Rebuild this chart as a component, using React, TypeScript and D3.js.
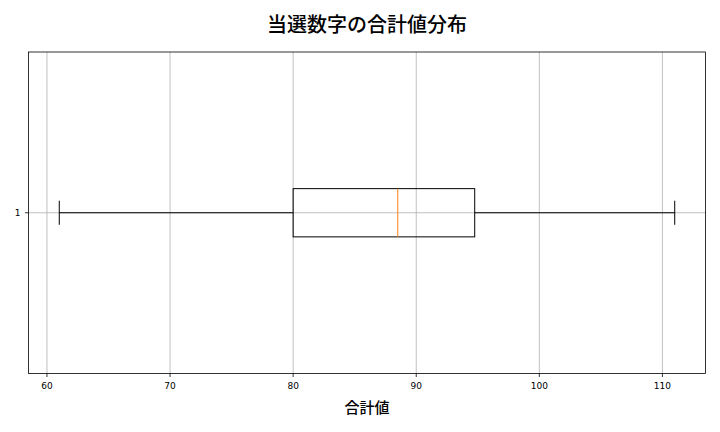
import React, { useEffect, useRef } from 'react';
import * as d3 from 'd3';

// Box statistics
const categories = ['1'];
const whiskerLow = [61];
const q1Values = [80];
const medianValues = [88.5];
const q3Values = [94.75];
const whiskerHigh = [111];
const xTicks = [60, 70, 80, 90, 100, 110];

const title = '当選数字の合計値分布';
const xLabel = '合計値';

const width = 720;
const height = 432;

const App: React.FC = () => {
  const svgRef = useRef<SVGSVGElement>(null);

  useEffect(() => {
    if (!svgRef.current) return;
    const svg = d3.select(svgRef.current);
    svg.selectAll('*').remove();

    const left = 28.5;
    const right = 705.5;
    const top = 52;
    const bottom = 373.5;

    // matplotlib-like autoscale: 5% padding on whisker range
    const lo = d3.min(whiskerLow) as number;
    const hi = d3.max(whiskerHigh) as number;
    const pad = (hi - lo) * 0.05;
    const x = d3.scaleLinear().domain([lo - pad, hi + pad]).range([left, right]);
    const y = d3.scaleLinear().domain([0.5, categories.length + 0.5]).range([bottom, top]);

    const tickFont = '"DejaVu Sans", sans-serif';
    const cjkFont = '"Noto Sans CJK JP", sans-serif';

    // Grid
    const grid = svg.append('g');
    grid.selectAll('line.vx')
      .data(xTicks)
      .enter()
      .append('line')
      .attr('x1', d => x(d))
      .attr('x2', d => x(d))
      .attr('y1', top)
      .attr('y2', bottom)
      .attr('stroke', '#b0b0b0')
      .attr('stroke-width', 0.8);
    grid.selectAll('line.hy')
      .data(categories)
      .enter()
      .append('line')
      .attr('x1', left)
      .attr('x2', right)
      .attr('y1', (_, i) => y(i + 1))
      .attr('y2', (_, i) => y(i + 1))
      .attr('stroke', '#b0b0b0')
      .attr('stroke-width', 0.8);

    // Boxes
    const boxW = 0.15;
    const capW = boxW / 2;
    const boxes = svg.append('g');
    categories.forEach((_, i) => {
      const pos = i + 1;
      const g = boxes.append('g');
      const yc = y(pos);
      g.append('line')
        .attr('x1', x(whiskerLow[i])).attr('x2', x(q1Values[i]))
        .attr('y1', yc).attr('y2', yc)
        .attr('stroke', '#000').attr('stroke-width', 1);
      g.append('line')
        .attr('x1', x(q3Values[i])).attr('x2', x(whiskerHigh[i]))
        .attr('y1', yc).attr('y2', yc)
        .attr('stroke', '#000').attr('stroke-width', 1);
      [whiskerLow[i], whiskerHigh[i]].forEach(v => {
        g.append('line')
          .attr('x1', x(v)).attr('x2', x(v))
          .attr('y1', y(pos + capW / 2)).attr('y2', y(pos - capW / 2))
          .attr('stroke', '#000').attr('stroke-width', 1);
      });
      g.append('rect')
        .attr('x', x(q1Values[i]))
        .attr('y', y(pos + boxW / 2))
        .attr('width', x(q3Values[i]) - x(q1Values[i]))
        .attr('height', y(pos - boxW / 2) - y(pos + boxW / 2))
        .attr('fill', 'none')
        .attr('stroke', '#000')
        .attr('stroke-width', 1);
      g.append('line')
        .attr('x1', x(medianValues[i])).attr('x2', x(medianValues[i]))
        .attr('y1', y(pos + boxW / 2)).attr('y2', y(pos - boxW / 2))
        .attr('stroke', '#ff7f0e').attr('stroke-width', 1);
    });

    // Frame
    svg.append('rect')
      .attr('x', left).attr('y', top)
      .attr('width', right - left).attr('height', bottom - top)
      .attr('fill', 'none')
      .attr('stroke', '#000')
      .attr('stroke-width', 0.8);

    // X ticks
    const xt = svg.append('g');
    xt.selectAll('line')
      .data(xTicks)
      .enter()
      .append('line')
      .attr('x1', d => x(d)).attr('x2', d => x(d))
      .attr('y1', bottom).attr('y2', bottom + 3.5)
      .attr('stroke', '#000').attr('stroke-width', 0.8);
    xt.selectAll('text')
      .data(xTicks)
      .enter()
      .append('text')
      .attr('x', d => x(d))
      .attr('y', bottom + 15)
      .attr('text-anchor', 'middle')
      .attr('font-family', tickFont)
      .attr('font-size', 9)
      .attr('fill', '#000')
      .text(d => String(d));

    // Y ticks
    const yt = svg.append('g');
    categories.forEach((c, i) => {
      yt.append('line')
        .attr('x1', left - 3.5).attr('x2', left)
        .attr('y1', y(i + 1)).attr('y2', y(i + 1))
        .attr('stroke', '#000').attr('stroke-width', 0.8);
      yt.append('text')
        .attr('x', left - 8)
        .attr('y', y(i + 1) + 3.5)
        .attr('text-anchor', 'end')
        .attr('font-family', tickFont)
        .attr('font-size', 9)
        .attr('fill', '#000')
        .text(c);
    });

    // Labels
    svg.append('text')
      .attr('x', (left + right) / 2)
      .attr('y', 32)
      .attr('text-anchor', 'middle')
      .attr('font-family', cjkFont)
      .attr('font-size', 20)
      .attr('font-weight', 500)
      .attr('fill', '#000')
      .text(title);

    svg.append('text')
      .attr('x', (left + right) / 2)
      .attr('y', 413)
      .attr('text-anchor', 'middle')
      .attr('font-family', cjkFont)
      .attr('font-size', 15)
      .attr('font-weight', 500)
      .attr('fill', '#000')
      .text(xLabel);
  }, []);

  return (
    <div style={{ position: 'fixed', left: 0, top: 0, width, height, background: '#fff' }}>
      <svg ref={svgRef} width={width} height={height} viewBox={`0 0 ${width} ${height}`} />
    </div>
  );
};

export default App;
